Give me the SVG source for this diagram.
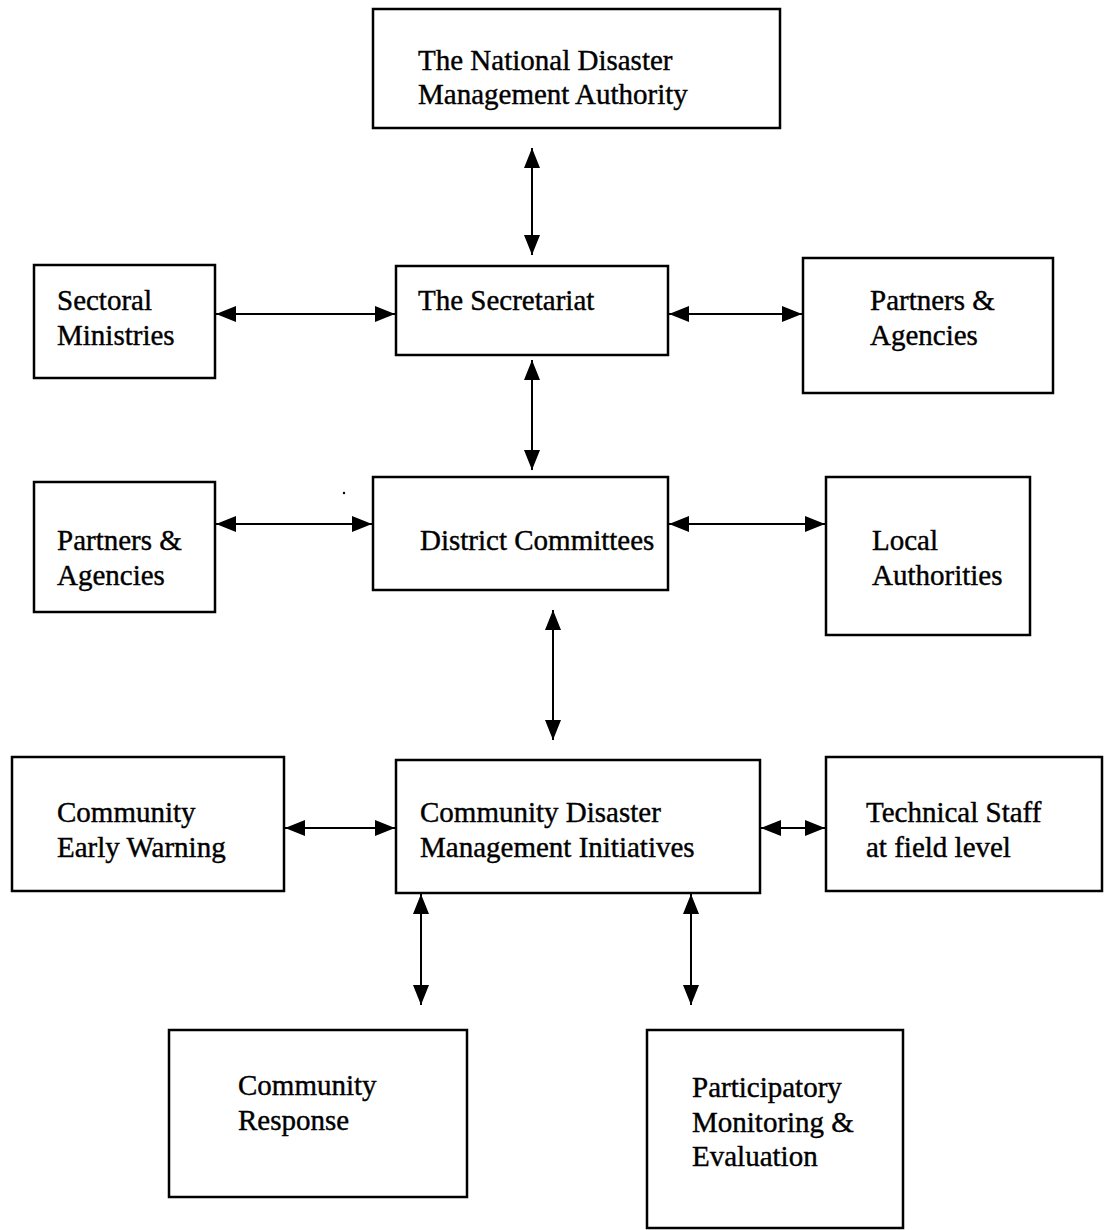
<svg xmlns="http://www.w3.org/2000/svg" width="1105" height="1230" viewBox="0 0 1105 1230">
<defs>
<style>
.box{fill:#fff;stroke:#000;stroke-width:2.5}
.t{font-family:"Liberation Serif","Times New Roman",serif;font-size:29px;fill:#000;stroke:#000;stroke-width:0.4}
.c{stroke:#000;stroke-width:2;fill:none;marker-start:url(#ah);marker-end:url(#ah)}
</style>
<marker id="ah" markerUnits="userSpaceOnUse" markerWidth="20" markerHeight="16" viewBox="0 0 20 16" refX="20" refY="8" orient="auto-start-reverse">
<path d="M0,0 L20,8 L0,16 z" fill="#000"/>
</marker>
</defs>
<rect width="1105" height="1230" fill="#fff"/>
<g id="connectors">
<line class="c" x1="532" y1="148" x2="532" y2="255"/>
<line class="c" x1="216" y1="314" x2="395" y2="314"/>
<line class="c" x1="669" y1="314" x2="802" y2="314"/>
<line class="c" x1="532" y1="360" x2="532" y2="470"/>
<line class="c" x1="216" y1="524" x2="372" y2="524"/>
<line class="c" x1="669" y1="524" x2="825" y2="524"/>
<line class="c" x1="553" y1="610" x2="553" y2="740"/>
<line class="c" x1="285" y1="828" x2="395" y2="828"/>
<line class="c" x1="761" y1="828" x2="825" y2="828"/>
<line class="c" x1="421" y1="894" x2="421" y2="1005"/>
<line class="c" x1="691" y1="894" x2="691" y2="1005"/>
<circle cx="344" cy="493" r="1.2" fill="#000"/>
</g>
<g id="ndma">
<rect class="box" x="373" y="9" width="407" height="119"/>
<text class="t" x="418" y="70">The National Disaster</text>
<text class="t" x="418" y="104">Management Authority</text>
</g>
<g id="sectoral">
<rect class="box" x="34" y="265" width="181" height="113"/>
<text class="t" x="57" y="310">Sectoral</text>
<text class="t" x="57" y="345">Ministries</text>
</g>
<g id="secretariat">
<rect class="box" x="396" y="266" width="272" height="89"/>
<text class="t" x="418" y="310">The Secretariat</text>
</g>
<g id="partners1">
<rect class="box" x="803" y="258" width="250" height="135"/>
<text class="t" x="870" y="310">Partners &amp;</text>
<text class="t" x="870" y="345">Agencies</text>
</g>
<g id="partners2">
<rect class="box" x="34" y="482" width="181" height="130"/>
<text class="t" x="57" y="550">Partners &amp;</text>
<text class="t" x="57" y="585">Agencies</text>
</g>
<g id="district">
<rect class="box" x="373" y="477" width="295" height="113"/>
<text class="t" x="420" y="550">District Committees</text>
</g>
<g id="local">
<rect class="box" x="826" y="477" width="204" height="158"/>
<text class="t" x="872" y="550">Local</text>
<text class="t" x="872" y="585">Authorities</text>
</g>
<g id="cew">
<rect class="box" x="12" y="757" width="272" height="134"/>
<text class="t" x="57" y="822">Community</text>
<text class="t" x="57" y="857">Early Warning</text>
</g>
<g id="cdmi">
<rect class="box" x="396" y="760" width="364" height="133"/>
<text class="t" x="420" y="822">Community Disaster</text>
<text class="t" x="420" y="857">Management Initiatives</text>
</g>
<g id="tech">
<rect class="box" x="826" y="757" width="276" height="134"/>
<text class="t" x="866" y="822">Technical Staff</text>
<text class="t" x="866" y="857">at field level</text>
</g>
<g id="response">
<rect class="box" x="169" y="1030" width="298" height="167"/>
<text class="t" x="238" y="1095">Community</text>
<text class="t" x="238" y="1130">Response</text>
</g>
<g id="pme">
<rect class="box" x="647" y="1030" width="256" height="198"/>
<text class="t" x="692" y="1097">Participatory</text>
<text class="t" x="692" y="1132">Monitoring &amp;</text>
<text class="t" x="692" y="1166">Evaluation</text>
</g>
</svg>
